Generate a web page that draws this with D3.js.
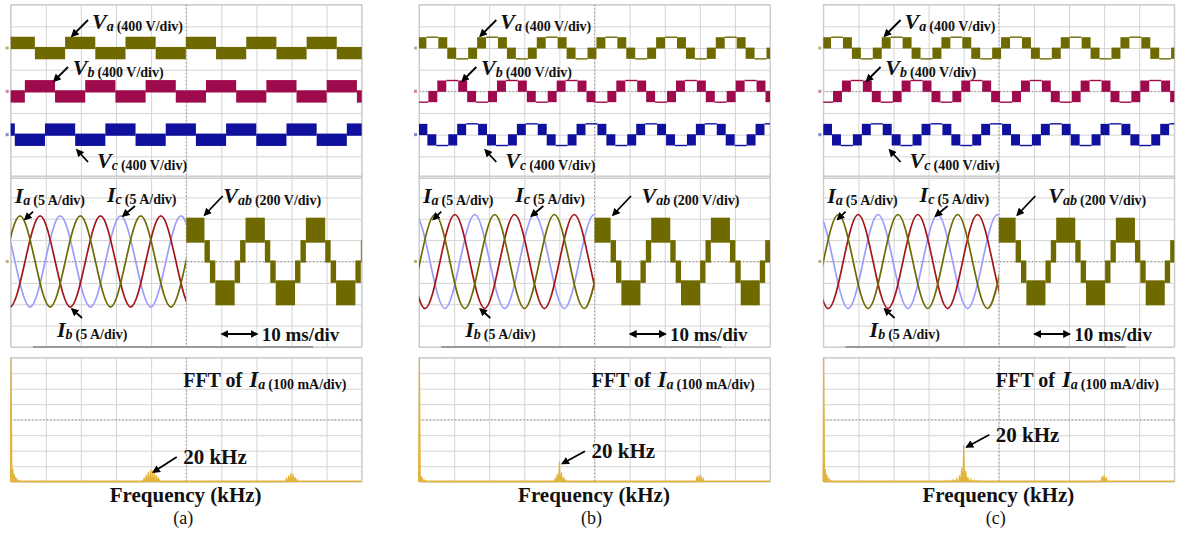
<!DOCTYPE html>
<html>
<head>
<meta charset="utf-8">
<script src="https://cdn.jsdelivr.net/npm/d3@7"></script>
<style>
  body { margin: 0; background: #fff; }
  svg { display: block; }
  text { font-family: "Liberation Serif", "Times New Roman", serif; fill: #111; }
</style>
</head>
<body>
<svg id="chart"></svg>
<script>
const panelNames = ["(a)", "(b)", "(c)"];
// fundamental period (ms) and time where the Va / Vab switching pattern starts (ms)
const periodMs = [17.2, 17.0, 17.0];
const vaStartMs = [15.5, 14.0, 14.1];
const vabStartMs = [15.3, 15.15, 15.35];
// first positive peak of Ia (ms) and current amplitude (div)
const iaPeakMs = [2.65, 4.56, 4.27];
const iAmpDiv = [2.13, 2.2, 2.2];
// quarter-period values of a current: peak, zero, trough, zero
const iQuarter = [1, 0, -1, 0];

// one period of a phase voltage: [start, end (fraction of period), low, high (div)]
const phasePatternA = [[0, 0.5, -0.05, 0.52], [0.5, 1, -0.52, 0.05]];
const phasePatternBC = [
  [0, 0.15, -0.5, 0.02], [0.15, 0.30, -0.02, 0.5], [0.30, 0.50, 0.5, 0.5],
  [0.50, 0.65, -0.02, 0.5], [0.65, 0.80, -0.5, 0.02], [0.80, 1, -0.5, -0.5]
];
const phasePatterns = [phasePatternA, phasePatternBC, phasePatternBC];
// one period of Vab (div)
const vabPattern = [
  [0, 0.32, 0.88, 2.05], [0.32, 0.41, -0.05, 1.0], [0.41, 0.50, -1.0, 0.05],
  [0.50, 0.82, -2.05, -0.88], [0.82, 0.91, -1.0, 0.05], [0.91, 1, -0.05, 1.0]
];

// FFT of Ia: [frequency kHz, amplitude div]
const fftA = [[0.06, 8], [0.3, 0.85], [0.5, 0.5], [0.7, 0.3], [0.9, 0.15], [1.2, 0.08],
  [19.0, 0.25], [19.3, 0.45], [19.6, 0.6], [19.9, 0.75], [20.2, 0.72], [20.5, 0.55], [20.8, 0.4], [21.1, 0.2],
  [39.3, 0.2], [39.6, 0.4], [39.9, 0.55], [40.2, 0.5], [40.5, 0.3], [40.8, 0.15]];
const fftB = [[0.06, 8], [0.3, 0.35], [0.5, 0.2], [0.8, 0.1],
  [19.4, 0.2], [19.7, 0.5], [20.0, 1.3], [20.3, 0.6], [20.6, 0.3], [20.9, 0.12],
  [39.6, 0.35], [39.9, 0.42], [40.2, 0.38], [40.5, 0.2]];
const fftC = [[0.06, 8], [0.3, 0.8], [0.5, 0.45], [0.8, 0.2], [1.2, 0.08],
  [17.5, 0.06], [18.0, 0.1], [18.5, 0.13], [19.0, 0.2], [19.4, 0.4], [19.7, 0.9], [20.0, 2.37],
  [20.3, 0.7], [20.6, 0.3], [21.0, 0.15], [21.5, 0.1], [22.0, 0.07], [22.5, 0.04],
  [39.7, 0.35], [40.0, 0.42], [40.3, 0.3]];
const fftData = [fftA, fftB, fftC];

const timeTicks = d3.range(0, 101, 10);   // ms, 10 ms/div
const freqTicks = d3.range(0, 51, 5);     // kHz
const divTicks = d3.range(-4, 5, 1);

// ---- layout ----
const W = 1179, H = 534;
const panelX = [10.7, 419, 823.3], screenW = 351;
const topScreen = [4.7, 178], midScreen = [176, 347], fftScreen = [357.7, 481.7];
const vabLabelDx = [212.5, 222.5, 225];
const kHzLabelY = [464, 458.3, 441.7];

const col = { va: "#6f6a00", vb: "#9e0a4c", vc: "#10109e", ib: "#a3161c", ic: "#9c9cff", fft: "#e2b43a" };

const svg = d3.select("#chart").attr("width", W).attr("height", H).attr("viewBox", [0, 0, W, H]);
svg.append("rect").attr("width", W).attr("height", H).attr("fill", "#fff");

const defs = svg.append("defs");
defs.append("marker").attr("id", "arrow")
  .attr("viewBox", "0 0 10 10").attr("refX", 8).attr("refY", 5)
  .attr("markerWidth", 8).attr("markerHeight", 8)
  .attr("markerUnits", "userSpaceOnUse").attr("orient", "auto-start-reverse")
  .append("path").attr("d", "M0,0L10,5L0,10z").attr("fill", "#000");

// repeat one measured period across [t0, t1]
function tile(pattern, start, period, t0, t1) {
  const segs = [];
  for (let k = Math.floor((t0 - start) / period) - 1; start + k * period < t1; k++) {
    for (const [f0, f1, lo, hi] of pattern) {
      const a = Math.max(t0, start + (k + f0) * period);
      const b = Math.min(t1, start + (k + f1) * period);
      if (b > a) segs.push({ a, b, lo, hi });
    }
  }
  return segs;
}

function grid(g, xs, xTicks, ys, yTicks, y0, y1) {
  const x0 = xs.range()[0], x1 = xs.range()[1];
  g.append("g").attr("transform", `translate(0,${y1})`)
    .call(d3.axisBottom(xs).tickValues(xTicks).tickSize(-(y1 - y0)).tickFormat(""))
    .call(a => a.select(".domain").remove())
    .call(a => a.selectAll("line").attr("stroke", "#d4d4d4"));
  g.append("g").attr("transform", `translate(${x0},0)`)
    .call(d3.axisLeft(ys).tickValues(yTicks).tickSize(-(x1 - x0)).tickFormat(""))
    .call(a => a.select(".domain").remove())
    .call(a => a.selectAll("line").attr("stroke", "#d4d4d4"));
  g.append("line").attr("x1", x0).attr("x2", x1).attr("y1", (y0 + y1) / 2).attr("y2", (y0 + y1) / 2)
    .attr("stroke", "#8a8a8a").attr("stroke-dasharray", "1.2,2.4");
  g.append("rect").attr("x", x0).attr("y", y0).attr("width", x1 - x0).attr("height", y1 - y0)
    .attr("fill", "none").attr("stroke", "#c8c8c8");
}

function drawSegs(g, segs, xs, ys, off, color) {
  g.selectAll(null).data(segs.filter(s => s.hi - s.lo > 0.1)).join("rect")
    .attr("x", s => xs(s.a)).attr("width", s => xs(s.b) - xs(s.a))
    .attr("y", s => ys(s.hi + off)).attr("height", s => ys(s.lo + off) - ys(s.hi + off))
    .attr("fill", color);
  g.selectAll(null).data(segs.filter(s => s.hi - s.lo <= 0.1)).join("line")
    .attr("x1", s => xs(s.a)).attr("x2", s => xs(s.b))
    .attr("y1", s => ys(s.hi + off)).attr("y2", s => ys(s.hi + off))
    .attr("stroke", color).attr("stroke-width", 1.4);
}

function sigLabel(g, x, y, main, sub, scale) {
  const t = g.append("text").attr("x", x).attr("y", y).attr("font-weight", "bold");
  t.append("tspan").attr("font-style", "italic").attr("font-size", 22).text(main);
  t.append("tspan").attr("font-style", "italic").attr("font-size", 14).attr("dy", 2).text(sub);
  t.append("tspan").attr("font-size", 14).attr("dx", 3).text(scale);
}

function arrow(g, x1, y1, x2, y2, both) {
  const l = g.append("line").attr("x1", x1).attr("y1", y1).attr("x2", x2).attr("y2", y2)
    .attr("stroke", "#000").attr("stroke-width", 1.8).attr("marker-end", "url(#arrow)");
  if (both) l.attr("marker-start", "url(#arrow)");
}

panelNames.forEach((name, i) => {
  const x0 = panelX[i];
  const g = svg.append("g");
  const P = periodMs[i];
  const x = d3.scaleLinear().domain([0, 100]).range([x0, x0 + screenW]);
  const yTop = d3.scaleLinear().domain([4, -4]).range(topScreen);
  const yMid = d3.scaleLinear().domain([4, -4]).range(midScreen);
  const fx = d3.scaleLinear().domain([0, 50]).range([x0, x0 + screenW]);
  const fy = d3.scaleLinear().domain([0, 8]).range([fftScreen[1], fftScreen[0]]);

  // screens
  grid(g, x, timeTicks, yTop, divTicks, topScreen[0], topScreen[1]);
  grid(g, x, timeTicks, yMid, divTicks, midScreen[0], midScreen[1]);
  grid(g, fx, freqTicks, fy, d3.range(0, 9), fftScreen[0], fftScreen[1]);
  g.append("line").attr("x1", x(50)).attr("x2", x(50)).attr("y1", topScreen[0]).attr("y2", midScreen[1])
    .attr("stroke", "#8a8a8a").attr("stroke-dasharray", "1.2,2.4");
  g.append("line").attr("x1", fx(25)).attr("x2", fx(25)).attr("y1", fftScreen[0]).attr("y2", fftScreen[1])
    .attr("stroke", "#8a8a8a").attr("stroke-dasharray", "1.2,2.4");
  g.append("line").attr("x1", x0 + 22.3).attr("x2", x0 + 302.5).attr("y1", 347).attr("y2", 347)
    .attr("stroke", "#9a9a9a").attr("stroke-width", 2.2);

  // phase voltages, 120 degrees apart
  const phases = [["va", 2], ["vb", 0], ["vc", -2]];
  phases.forEach(([k, off], j) => {
    const start = vaStartMs[i] + j * P / 3;
    drawSegs(g, tile(phasePatterns[i], start, P, 0, 100), x, yTop, off, col[k]);
    g.append("rect").attr("x", x0 - 5).attr("y", yTop(off) - 1.5).attr("width", 3).attr("height", 3)
      .attr("fill", col[k]).attr("opacity", 0.5);
  });

  // line-to-line voltage on the right half
  drawSegs(g, tile(vabPattern, vabStartMs[i], P, 50, 100), x, yMid, 0, col.va);

  // phase currents on the left half
  const clipId = "clip" + i;
  defs.append("clipPath").attr("id", clipId).append("rect")
    .attr("x", x(0)).attr("y", midScreen[0]).attr("width", x(50) - x(0)).attr("height", midScreen[1] - midScreen[0]);
  const line = d3.line().x(d => x(d[0])).y(d => yMid(d[1])).curve(d3.curveNatural);
  const cur = g.append("g").attr("clip-path", `url(#${clipId})`).attr("fill", "none");
  [["ic", 2], ["ib", 1], ["va", 0]].forEach(([k, j]) => {
    const peak = iaPeakMs[i] + j * P / 3;
    const q = P / 4;
    const pts = [];
    for (let n = Math.floor(-peak / q) - 4; peak + n * q <= 50 + P; n++) {
      pts.push([peak + n * q, iAmpDiv[i] * iQuarter[((n % 4) + 4) % 4]]);
    }
    cur.append("path").attr("d", line(pts)).attr("stroke", col[k]).attr("stroke-width", 1.7);
  });
  g.append("rect").attr("x", x0 - 5).attr("y", yMid(0) - 1.5).attr("width", 3).attr("height", 3)
    .attr("fill", col.va).attr("opacity", 0.5);

  // FFT spectrum
  const fftClip = "fclip" + i;
  defs.append("clipPath").attr("id", fftClip).append("rect")
    .attr("x", fx(0) - 1).attr("y", fftScreen[0]).attr("width", screenW + 2).attr("height", fftScreen[1] - fftScreen[0] + 2);
  const spec = g.append("g").attr("clip-path", `url(#${fftClip})`);
  const spikes = [];
  fftData[i].forEach(([f, v]) => { spikes.push([f - 0.12, 0], [f, v], [f + 0.12, 0]); });
  spec.append("path")
    .attr("d", d3.line().x(d => fx(d[0])).y(d => fy(d[1]))(spikes))
    .attr("fill", col.fft).attr("stroke", col.fft).attr("stroke-width", 1.1);
  spec.append("line").attr("x1", fx(0)).attr("x2", fx(50)).attr("y1", fy(0) - 0.5).attr("y2", fy(0) - 0.5)
    .attr("stroke", col.fft).attr("stroke-width", 1.5);

  // annotations
  sigLabel(g, x0 + 81.3, 28.5, "V", "a", "(400 V/div)");
  arrow(g, x0 + 77.3, 20, x0 + 61.3, 36);
  sigLabel(g, x0 + 62, 75, "V", "b", "(400 V/div)");
  arrow(g, x0 + 57.3, 67, x0 + 43.3, 81);
  sigLabel(g, x0 + 86.3, 168, "V", "c", "(400 V/div)");
  arrow(g, x0 + 77.3, 162, x0 + 66.3, 150);

  sigLabel(g, x0 + 4, 202.5, "I", "a", "(5 A/div)");
  arrow(g, x0 + 22.3, 211.7, x0 + 14.3, 219.3);
  sigLabel(g, x0 + 96.3, 202, "I", "c", "(5 A/div)");
  arrow(g, x0 + 124.3, 206, x0 + 112.3, 216);
  sigLabel(g, x0 + vabLabelDx[i], 203, "V", "ab", "(200 V/div)");
  arrow(g, x0 + 212, 196, x0 + 194, 215);
  sigLabel(g, x0 + 46.3, 336.7, "I", "b", "(5 A/div)");
  arrow(g, x0 + 71.3, 318, x0 + 61.3, 309);

  arrow(g, x0 + 211.3, 334, x0 + 246.3, 334, true);
  g.append("text").attr("x", x0 + 251).attr("y", 341).attr("font-size", 19).attr("font-weight", "bold").text("10 ms/div");

  const ft = g.append("text").attr("x", x0 + 172.5).attr("y", 386.5).attr("font-weight", "bold");
  ft.append("tspan").attr("font-size", 20).text("FFT of");
  ft.append("tspan").attr("font-style", "italic").attr("font-size", 23).attr("dx", 7).text("I");
  ft.append("tspan").attr("font-style", "italic").attr("font-size", 14).attr("dy", 2).text("a");
  ft.append("tspan").attr("font-size", 14).attr("dx", 3).text("(100 mA/div)");

  const peak = fftData[i].reduce((m, d) => (d[0] > 10 && d[1] > m[1] ? d : m), [0, 0]);
  g.append("text").attr("x", x0 + 172.5).attr("y", kHzLabelY[i]).attr("font-size", 21).attr("font-weight", "bold").text("20 kHz");
  arrow(g, x0 + 166, kHzLabelY[i] - 7, fx(peak[0]) + 3, fy(peak[1]) + 2);

  g.append("text").attr("x", x0 + 175).attr("y", 501.7).attr("text-anchor", "middle")
    .attr("font-size", 21).attr("font-weight", "bold").text("Frequency (kHz)");
  g.append("text").attr("x", x0 + 172.5).attr("y", 524).attr("text-anchor", "middle")
    .attr("font-size", 18).text(name);
});
</script>
</body>
</html>
